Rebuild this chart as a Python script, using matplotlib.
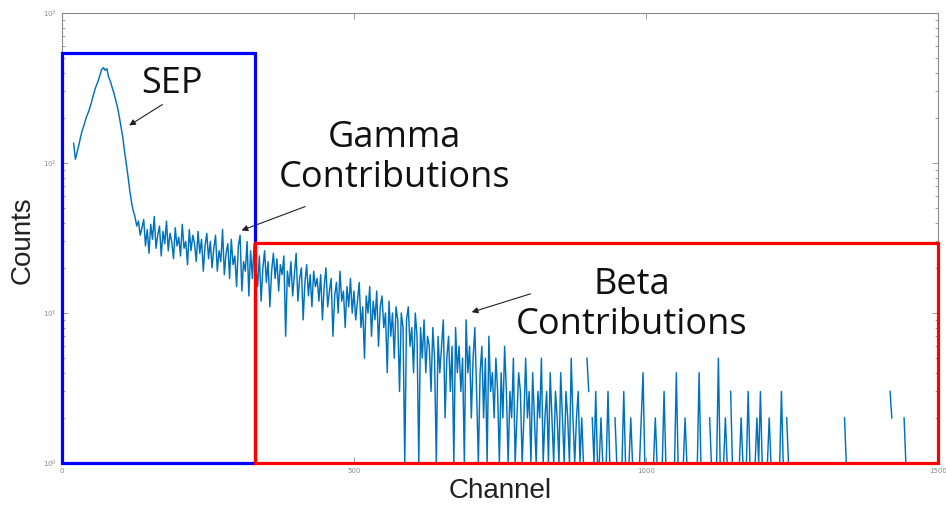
import numpy as np
import matplotlib
matplotlib.use("Agg")
from matplotlib import pyplot as plt
from matplotlib.patches import Rectangle

# spectrum: counts every 3 channels, starting at channel 20
counts = [
    135, 106, 118, 132, 150, 166, 180, 198, 212, 228, 250, 276, 305, 330, 352, 385, 420, 432, 415, 425,
    372, 350, 318, 292, 262, 236, 205, 175, 150, 120, 100, 82, 66, 55, 48, 44, 38, 41, 33, 37,
    42, 28, 36, 25, 39, 31, 44, 27, 33, 38, 24, 35, 29, 41, 26, 34, 30, 23, 37, 28,
    32, 24, 39, 27, 30, 21, 36, 26, 33, 29, 22, 35, 25, 31, 19, 28, 34, 23, 30, 20,
    27, 33, 19, 26, 22, 36, 18, 25, 29, 17, 31, 21, 24, 15, 28, 33, 14, 22, 19, 30,
    13, 26, 17, 29, 21, 15, 24, 12, 20, 26, 16, 22, 11, 19, 25, 17, 23, 14, 21, 18,
    24, 7, 19, 15, 22, 13, 18, 25, 12, 17, 20, 9, 16, 21, 13, 18, 11, 19, 15, 17,
    12, 18, 9, 15, 20, 11, 14, 17, 7, 13, 16, 10, 19, 12, 14, 8, 15, 11, 17, 10,
    14, 9, 12, 16, 8, 11, 5, 13, 10, 15, 7, 12, 9, 14, 6, 11, 13, 8, 10, 4,
    12, 7, 10, 5, 11, 9, 3, 10, 8, 1, 9, 11, 6, 8, 4, 10, 7, 1, 8, 5,
    9, 4, 7, 6, 3, 8, 5, 1, 7, 4, 6, 9, 2, 5, 7, 3, 6, 1, 8, 4,
    6, 3, 5, 1, 9, 4, 6, 2, 5, 8, 3, 1, 4, 6, 2, 5, 1, 7, 3, 4,
    2, 5, 3, 1, 4, 2, 6, 3, 1, 3, 2, 5, 1, 2, 4, 3, 1, 2, 5, 2,
    3, 1, 4, 2, 1, 3, 2, 5, 1, 2, 3, 1, 4, 2, 1, 3, 2, 1, 4, 2,
    1, 3, 2, 1, 5, 2, 1, 2, 3, 1, 2, 1, 0, 5, 3, 0, 2, 1, 3, 1,
    1, 2, 1, 0, 1, 3, 1, 1, 0, 2, 1, 1, 0, 1, 3, 1, 0, 1, 2, 1,
    1, 0, 1, 1, 2, 4, 1, 0, 1, 1, 0, 1, 2, 1, 1, 0, 1, 3, 1, 0,
    1, 1, 0, 1, 4, 1, 0, 1, 1, 2, 1, 0, 1, 1, 0, 1, 1, 4, 1, 0,
    1, 1, 0, 2, 1, 1, 0, 1, 5, 1, 0, 1, 2, 1, 0, 3, 1, 1, 0, 1,
    1, 2, 1, 0, 1, 3, 1, 1, 0, 1, 2, 1, 3, 1, 0, 1, 1, 2, 1, 0,
    1, 1, 0, 1, 3, 1, 0, 2, 1, 0, 0, 0, 0, 0, 0, 0, 0, 0, 0, 0,
    0, 0, 0, 0, 0, 0, 0, 0, 0, 0, 0, 0, 0, 0, 0, 0, 0, 0, 0, 0,
    2, 1, 0, 0, 0, 0, 0, 0, 0, 0, 0, 0, 0, 0, 0, 0, 0, 0, 0, 0,
    0, 0, 0, 0, 0, 0, 3, 2, 0, 0, 0, 0, 0, 0, 2, 1, 0, 0, 0, 0,
    0, 0, 0, 0, 0, 0, 0, 0, 0, 0, 0, 0, 0, 0,
]
channels = np.arange(20, 20 + 3 * len(counts), 3)

# region boxes: (start channel, end channel, top count)
sep_box = (0, 330, 541)
beta_box = (330, 1500, 29.3)

xticks = [0, 500, 1000, 1500]
yticks = [1, 10, 100, 1000]

fig = plt.figure(figsize=(9.46, 5.17), dpi=100)
ax = fig.add_axes([0.0655, 0.1044, 0.926, 0.8705])

y = np.array(counts, dtype=float)
y[y <= 0] = np.nan   # empty channels are left out on the log axis
ax.plot(channels, y, color='#0072BD', lw=1.05)

ax.set_yscale('log')
ax.set_xlim(0, 1500)
ax.set_ylim(1, 1000)
ax.set_xticks(xticks)
ax.set_yticks(yticks)
ax.tick_params(which='both', direction='in', top=True, right=True,
               colors='#8a8a8a', labelsize=5, width=0.6)
ax.tick_params(which='major', length=4)
ax.tick_params(which='minor', length=2)
for s in ax.spines.values():
    s.set_color('#8a8a8a')
    s.set_linewidth(0.8)

ax.add_patch(Rectangle((sep_box[0], 1), sep_box[1] - sep_box[0], sep_box[2] - 1,
                       fill=False, ec='#0000ff', lw=2.3, clip_on=False, zorder=5))
ax.add_patch(Rectangle((beta_box[0], 1), beta_box[1] - beta_box[0], beta_box[2] - 1,
                       fill=False, ec='#ff0000', lw=2.3, clip_on=False, zorder=5))

# axis titles
lfont = dict(fontsize=20, family='Liberation Sans', color='#222222', ha='center', va='center')
fig.text(500 / 946, 1 - 491 / 517, 'Channel', **lfont)
fig.text(23 / 946, 1 - 240 / 517, 'Counts', rotation=90, **lfont)

tfont = dict(fontsize=26, family='Open Sans', color='#111111', ha='center', va='center',
             linespacing=1.12)
ax.text(188, 335, 'SEP', **tfont)
ax.text(570, 108, 'Gamma\nContributions', **tfont)
ax.text(976, 11.3, 'Beta\nContributions', **tfont)

arrow = dict(arrowstyle='-|>', color='#222222', lw=0.8, mutation_scale=9)
ax.annotate('', xy=(111, 174), xytext=(176, 251), arrowprops=arrow)
ax.annotate('', xy=(303, 35), xytext=(421, 52), arrowprops=arrow)
ax.annotate('', xy=(697, 10), xytext=(807, 13.6), arrowprops=arrow)

plt.savefig('out.png', dpi=100, facecolor='white')
